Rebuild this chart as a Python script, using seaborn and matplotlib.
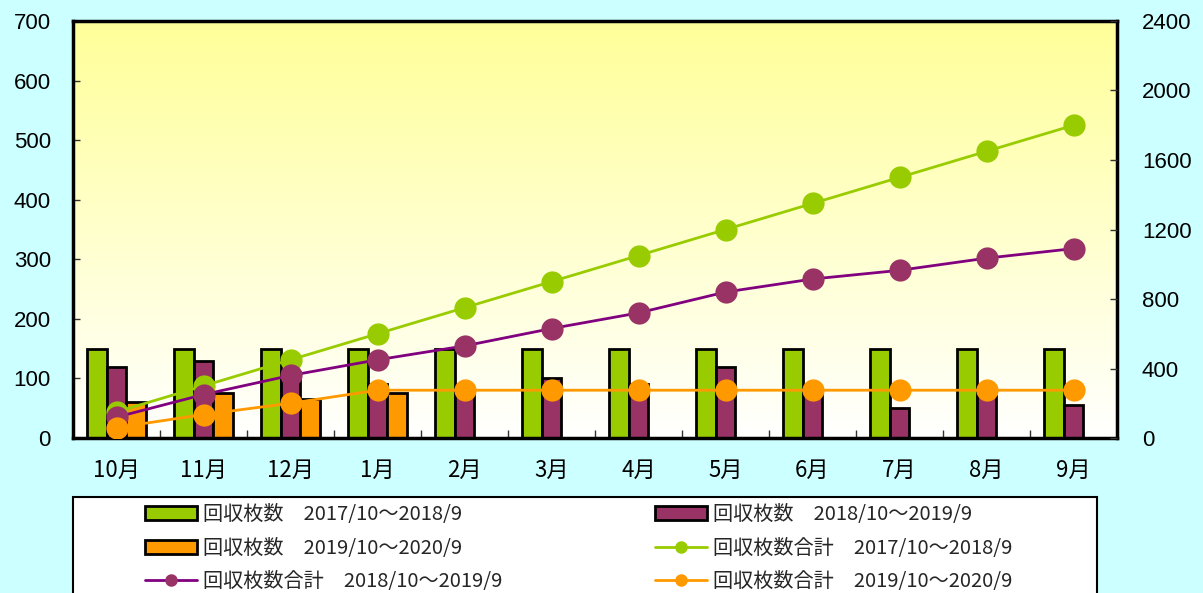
import numpy as np
import pandas as pd
import matplotlib
matplotlib.use("Agg")
import matplotlib.pyplot as plt
import seaborn as sns
from matplotlib.patches import Rectangle, Patch
from matplotlib.lines import Line2D
from matplotlib.ticker import FixedLocator
from matplotlib.colors import LinearSegmentedColormap

# ---------------- data ----------------
months = ["10月", "11月", "12月", "1月", "2月", "3月", "4月", "5月", "6月", "7月", "8月", "9月"]
bars_2017 = [150, 150, 150, 150, 150, 150, 150, 150, 150, 150, 150, 150]
bars_2018 = [120, 130, 110, 90, 80, 100, 90, 120, 75, 50, 70, 55]
bars_2019 = [60, 75, 65, 75, np.nan, np.nan, np.nan, np.nan, np.nan, np.nan, np.nan, np.nan]

lab_b1 = "回収枚数\u30002017/10～2018/9"
lab_b2 = "回収枚数\u30002018/10～2019/9"
lab_b3 = "回収枚数\u30002019/10～2020/9"
lab_l1 = "回収枚数合計\u30002017/10～2018/9"
lab_l2 = "回収枚数合計\u30002018/10～2019/9"
lab_l3 = "回収枚数合計\u30002019/10～2020/9"

left_ticks = [0, 100, 200, 300, 400, 500, 600, 700]
right_ticks = [0, 400, 800, 1200, 1600, 2000, 2400]

# ---------------- colours ----------------
GREEN = "#99CC00"
PURPLE = "#993366"
PURPLE_LINE = "#800080"
ORANGE = "#FF9900"
BG = "#CCFFFF"

sns.set_theme(style="white")
plt.rcParams["font.family"] = ["Noto Sans CJK JP", "DejaVu Sans"]

W, H = 1203, 593
fig = plt.figure(figsize=(W / 100, H / 100), dpi=100, facecolor=BG)
ax = fig.add_axes([73 / W, 1 - 438 / H, (1117 - 73) / W, (438 - 21) / H])

# gradient background
grad = np.linspace(0, 1, 256).reshape(-1, 1)
cmap = LinearSegmentedColormap.from_list("g", ["#FFFF99", "#FFFFFF"])
ax.imshow(grad, cmap=cmap, aspect="auto", extent=[0, 1, 0, 1],
          transform=ax.transAxes, zorder=0, interpolation="bilinear")

df = pd.DataFrame({
    "month": months * 3,
    "value": bars_2017 + bars_2018 + bars_2019,
    "series": [lab_b1] * 12 + [lab_b2] * 12 + [lab_b3] * 12,
})
sns.barplot(data=df, x="month", y="value", hue="series", order=months,
            hue_order=[lab_b1, lab_b2, lab_b3], palette=[GREEN, PURPLE, ORANGE],
            width=0.67, edgecolor="black", linewidth=2, saturation=1,
            legend=False, ax=ax, zorder=2)

ax.set_xlim(-0.5, 11.5)
ax.set_ylim(0, 700)
ax.set_xlabel("")
ax.set_ylabel("")
ax.set_yticks(left_ticks)
ax.set_yticklabels([str(v) for v in left_ticks], fontfamily="Liberation Sans", fontsize=16)
ax.set_xticks(range(12))
ax.set_xticklabels(months, fontsize=16)
ax.tick_params(axis="x", which="major", length=0, pad=15, labelcolor="black")
ax.xaxis.set_minor_locator(FixedLocator(np.arange(0.5, 11.5, 1)))
ax.tick_params(axis="x", which="minor", direction="in", length=6, width=1, color="#333333", bottom=True)
ax.tick_params(axis="y", direction="in", length=5, width=1, pad=16, color="#333333",
               labelcolor="black", left=True)
for s in ax.spines.values():
    s.set_visible(True)
    s.set_color("black")
    s.set_linewidth(2.5)

# cumulative lines
ax2 = ax.twinx()
pos = np.arange(12)
cum1 = np.cumsum(np.nan_to_num(bars_2017))
cum2 = np.cumsum(np.nan_to_num(bars_2018))
cum3 = np.cumsum(np.nan_to_num(bars_2019))
sns.lineplot(x=pos, y=cum1, ax=ax2, color=GREEN, linewidth=2, marker="o",
             markersize=16, markerfacecolor=GREEN, markeredgewidth=0)
sns.lineplot(x=pos, y=cum2, ax=ax2, color=PURPLE_LINE, linewidth=2, marker="o",
             markersize=16, markerfacecolor=PURPLE, markeredgewidth=0)
sns.lineplot(x=pos, y=cum3, ax=ax2, color=ORANGE, linewidth=2, marker="o",
             markersize=16, markerfacecolor=ORANGE, markeredgewidth=0)
ax2.set_ylim(0, 2400)
ax2.set_xlim(-0.5, 11.5)
ax2.set_yticks(right_ticks)
ax2.set_yticklabels([str(v) for v in right_ticks], fontfamily="Liberation Sans", fontsize=16)
ax2.tick_params(axis="y", direction="in", length=5, width=1, pad=18, color="#333333",
                labelcolor="black", right=True)
for s in ax2.spines.values():
    s.set_visible(False)

# legend box
fig.add_artist(Rectangle((73 / W, -0.1), (1097 - 73) / W, 0.1 + (1 - 497 / H),
                         transform=fig.transFigure, facecolor="white",
                         edgecolor="black", linewidth=1.5, zorder=0))

col1 = [Patch(facecolor=GREEN, edgecolor="black", linewidth=2),
        Patch(facecolor=ORANGE, edgecolor="black", linewidth=2),
        Line2D([], [], color=PURPLE_LINE, lw=2, marker="o", ms=8, mfc=PURPLE, mec=PURPLE)]
col2 = [Patch(facecolor=PURPLE, edgecolor="black", linewidth=2),
        Line2D([], [], color=GREEN, lw=2, marker="o", ms=8, mfc=GREEN, mec=GREEN),
        Line2D([], [], color=ORANGE, lw=2, marker="o", ms=8, mfc=ORANGE, mec=ORANGE)]
common = dict(loc="upper left", frameon=False, borderpad=0, borderaxespad=0,
              handlelength=2.6, handletextpad=0.3, labelspacing=0.63,
              prop={"family": ["Noto Sans CJK JP", "DejaVu Sans"], "size": 14.5})
fig.legend(col1, [lab_b1, lab_b3, lab_l2], bbox_to_anchor=(145 / W, 1 - 504 / H), **common)
fig.legend(col2, [lab_b2, lab_l1, lab_l3], bbox_to_anchor=(655 / W, 1 - 504 / H), **common)

fig.savefig("out.png", dpi=100, facecolor=BG)
